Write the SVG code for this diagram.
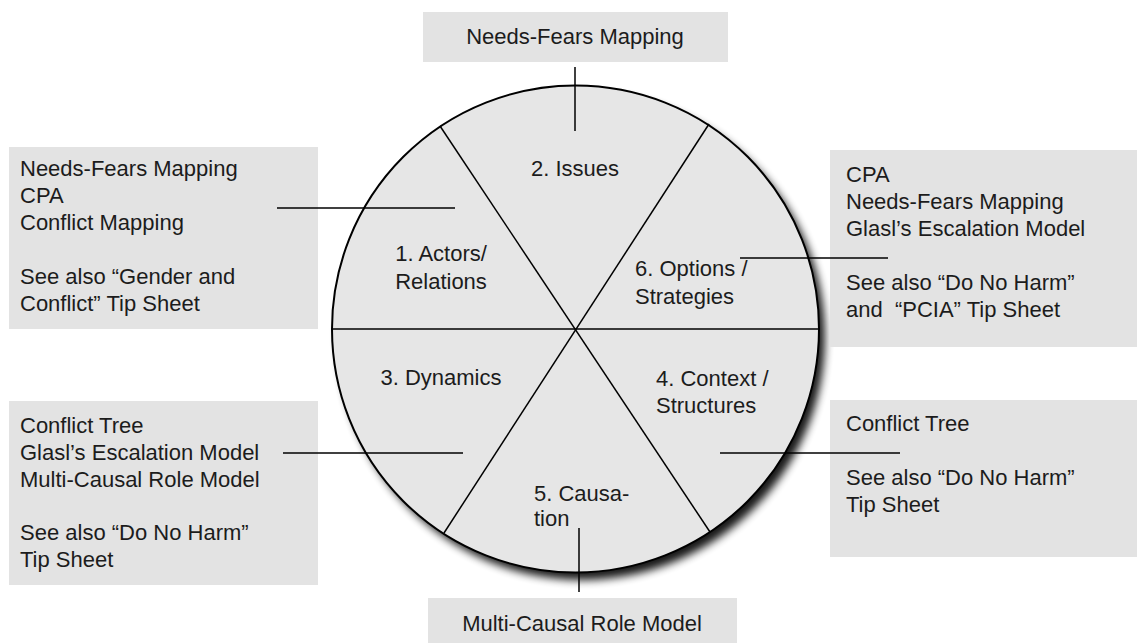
<svg xmlns="http://www.w3.org/2000/svg" width="1142" height="643" viewBox="0 0 1142 643">
<style>
text{font-family:"Liberation Sans",Arial,sans-serif;font-size:22px;fill:#1c1c1c}
.box{fill:#e3e3e3}
.ln{stroke:#000;stroke-width:1.5;fill:none}
.c{text-anchor:middle}
</style>
<defs>
<filter id="sh" x="-10%" y="-10%" width="120%" height="120%">
<feGaussianBlur stdDeviation="4.5"/>
</filter>
</defs>
<g id="wheel">
<circle cx="582" cy="337" r="243" fill="#000" opacity="0.9" filter="url(#sh)"/>
<circle cx="575.5" cy="329" r="243.5" fill="#e6e6e6" stroke="#000" stroke-width="2"/>
<line class="ln" x1="332" y1="329" x2="819" y2="329"/>
<line class="ln" x1="440" y1="126" x2="710" y2="532"/>
<line class="ln" x1="709" y1="124" x2="444" y2="533"/>
<text class="c" x="575" y="176">2. Issues</text>
<text class="c" x="441" y="261">1. Actors/</text>
<text class="c" x="441" y="289">Relations</text>
<text class="c" x="441" y="385">3. Dynamics</text>
<text x="635" y="276">6. Options /</text>
<text x="635" y="304">Strategies</text>
<text x="656" y="386">4. Context /</text>
<text x="656" y="413">Structures</text>
<text x="534" y="501">5. Causa-</text>
<text x="534" y="526">tion</text>
</g>
<g id="top-box">
<rect class="box" x="423" y="12" width="305" height="50"/>
<text class="c" x="575" y="44">Needs-Fears Mapping</text>
</g>
<g id="left-top-box">
<rect class="box" x="9" y="147" width="309" height="182"/>
<text x="20" y="176">Needs-Fears Mapping</text>
<text x="20" y="203">CPA</text>
<text x="20" y="230">Conflict Mapping</text>
<text x="20" y="284">See also “Gender and</text>
<text x="20" y="311">Conflict” Tip Sheet</text>
</g>
<g id="right-top-box">
<rect class="box" x="830" y="150" width="307" height="197"/>
<text x="846" y="182">CPA</text>
<text x="846" y="209">Needs-Fears Mapping</text>
<text x="846" y="236">Glasl’s Escalation Model</text>
<text x="846" y="290">See also “Do No Harm”</text>
<text x="846" y="317" style="white-space:pre">and  “PCIA” Tip Sheet</text>
</g>
<g id="left-bottom-box">
<rect class="box" x="9" y="401" width="309" height="184"/>
<text x="20" y="433">Conflict Tree</text>
<text x="20" y="460">Glasl’s Escalation Model</text>
<text x="20" y="487">Multi-Causal Role Model</text>
<text x="20" y="540">See also “Do No Harm”</text>
<text x="20" y="567">Tip Sheet</text>
</g>
<g id="right-bottom-box">
<rect class="box" x="830" y="400" width="307" height="157"/>
<text x="846" y="431">Conflict Tree</text>
<text x="846" y="485">See also “Do No Harm”</text>
<text x="846" y="512">Tip Sheet</text>
</g>
<g id="bottom-box">
<rect class="box" x="428" y="598" width="309" height="45"/>
<text class="c" x="582" y="631">Multi-Causal Role Model</text>
</g>
<g id="connectors">
<line class="ln" x1="575" y1="67" x2="575" y2="131"/>
<line class="ln" x1="277" y1="208" x2="455" y2="208"/>
<line class="ln" x1="740" y1="258" x2="888" y2="258"/>
<line class="ln" x1="283" y1="453" x2="463" y2="453"/>
<line class="ln" x1="720" y1="453" x2="900" y2="453"/>
<line class="ln" x1="579" y1="528" x2="579" y2="592"/>
</g>
</svg>
